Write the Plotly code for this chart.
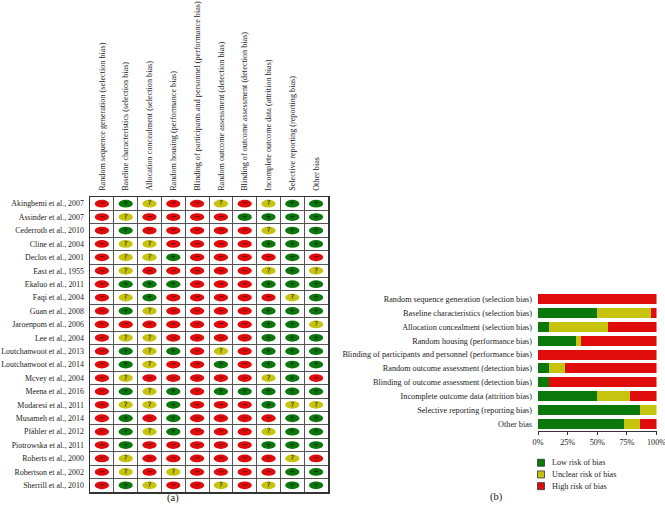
import plotly.graph_objects as go

domains = [
    "Random sequence generation (selection bias)",
    "Baseline characteristics (selection bias)",
    "Allocation concealment (selection bias)",
    "Random housing (performance bias)",
    "Blinding of participants and personnel (performance bias)",
    "Random outcome assessment (detection bias)",
    "Blinding of outcome assessment (detection bias)",
    "Incomplete outcome data (attrition bias)",
    "Selective reporting (reporting bias)",
    "Other bias",
]

studies = [
    "Akingbemi et al., 2007", "Assinder et al., 2007", "Cederroth et al., 2010",
    "Cline et al., 2004", "Declos et al., 2001", "East et al., 1955",
    "Ekaluo et al., 2011", "Faqi et al., 2004", "Guan et al., 2008",
    "Jaroenpom et al., 2006", "Lee et al., 2004", "Loutchanwoot et al., 2013",
    "Loutchanwoot et al., 2014", "Mcvey et al., 2004", "Meena et al., 2016",
    "Modaresi et al., 2011", "Musameh et al., 2014", "Pf\u00e4hler et al., 2012",
    "Piotrowska et al., 2011", "Roberts et al., 2000", "Robertson et al., 2002",
    "Sherrill et al., 2010",
]

# L = low, U = unclear, H = high risk of bias (one string per study, one letter per domain)
judgements = [
    "HLUHHUHULL", "HUHHHHLLLL", "HLHHHHHULL", "HUUHHHHLLL", "HUULHHHHLH",
    "HUHHHHHULU", "HLLLHHHLLL", "HULHHHHHUL", "HLUHHHHLLL", "HHHHHHHLLU",
    "HUUHHHHLLL", "HLULHUHLLL", "HLUHHLHLLL", "HUHHHHHULH", "HLULHLLLLL",
    "HUULHHHLUU", "HLHLHHHHLL", "HLULHHHULL", "HLHHHHHLLL", "HUHHHHHHUH",
    "HUHUHHHHLL", "HLUHHUHULL",
]

legend_codes = ["L", "U", "H"]
legend_names = ["Low risk of bias", "Unclear risk of bias", "High risk of bias"]

GREEN, YELLOW, RED = "#0b780b", "#c6c40e", "#e00b0b"
colors = {"L": GREEN, "U": YELLOW, "H": RED}
signs = {"L": "+", "U": "?", "H": "\u2212"}

FONT = "Liberation Serif"
TXT = "#222222"
FS = 8.2
FS_ROW = 7.9

fig = go.Figure()

# ---- panel (a): traffic-light grid ----
shapes = []
sx, sy, st = [], [], []
for i, row in enumerate(judgements):
    for j, c in enumerate(row):
        x, y = j + 1, i + 1
        shapes.append(dict(type="circle", xref="x", yref="y",
                           x0=x - 0.3, x1=x + 0.3, y0=y - 0.29, y1=y + 0.29,
                           fillcolor=colors[c], line=dict(width=0), layer="below"))
        sx.append(x); sy.append(y); st.append(signs[c])

fig.add_trace(go.Scatter(x=sx, y=sy, text=st, mode="text", xaxis="x", yaxis="y",
                         textfont=dict(size=7, color="#111111", family="DejaVu Sans"),
                         showlegend=False, hoverinfo="skip"))

# ---- panel (b): stacked percentage bars ----
n = len(judgements)
for code, name in zip(legend_codes, legend_names):
    pct = [100.0 * sum(1 for r in judgements if r[j] == code) / n for j in range(len(domains))]
    fig.add_trace(go.Bar(y=domains, x=pct, orientation="h", xaxis="x2", yaxis="y2",
                         marker=dict(color=colors[code], line=dict(width=0)),
                         width=0.72, showlegend=False, name=name))

# ---- legend for panel (b) ----
fig.add_trace(go.Scatter(x=[5] * 3, y=[0.5, 1.5, 2.5], mode="markers", xaxis="x3", yaxis="y3",
                         marker=dict(symbol="square", size=7,
                                     color=[colors[c] for c in legend_codes],
                                     line=dict(color="#333333", width=0.8)),
                         showlegend=False, hoverinfo="skip"))
legend_ann = [dict(text=name, xref="x3", yref="y3", x=14, y=k + 0.5, xanchor="left",
                   yanchor="middle", showarrow=False,
                   font=dict(family=FONT, size=FS, color=TXT))
              for k, name in enumerate(legend_names)]

fig.update_layout(
    width=665, height=512,
    margin=dict(l=0, r=0, t=0, b=0),
    paper_bgcolor="white", plot_bgcolor="white",
    font=dict(family=FONT, size=FS, color=TXT),
    barmode="stack",
    shapes=shapes,
    showlegend=False,
    xaxis=dict(domain=[90 / 665, 328 / 665], range=[0.5, 10.5], side="top", automargin=False,
               tickmode="array", tickvals=list(range(1, 11)), ticktext=domains,
               tickangle=-90, ticks="", ticklabelstandoff=3, showgrid=False, zeroline=False,
               minor=dict(tickmode="array", tickvals=[k + 0.5 for k in range(0, 11)],
                          showgrid=True, gridcolor="#555555", gridwidth=1, ticks=""),
               showline=True, mirror=True, linecolor="#333333", linewidth=1.5,
               tickfont=dict(family=FONT, size=FS, color=TXT), fixedrange=True),
    yaxis=dict(domain=[1 - 492 / 512, 1 - 197 / 512], range=[22.5, 0.5], automargin=False,
               tickmode="array", tickvals=list(range(1, 23)), ticktext=studies,
               ticks="", ticklabelstandoff=3, showgrid=False, zeroline=False,
               minor=dict(tickmode="array", tickvals=[k + 0.5 for k in range(0, 23)],
                          showgrid=True, gridcolor="#555555", gridwidth=1, ticks=""),
               showline=True, mirror=True, linecolor="#333333", linewidth=1.5,
               tickfont=dict(family=FONT, size=FS_ROW, color=TXT), fixedrange=True),
    xaxis2=dict(domain=[538 / 665, 656.5 / 665], range=[0, 100], anchor="y2", automargin=False,
                tickmode="array", tickvals=[0, 25, 50, 75, 100],
                ticktext=["0%", "25%", "50%", "75%", "100%"], ticklabeloverflow="allow",
                ticks="outside", ticklen=3, tickcolor="#333333", showgrid=False, zeroline=False,
                showline=True, linecolor="#333333", linewidth=1,
                tickfont=dict(family=FONT, size=FS, color=TXT), fixedrange=True),
    yaxis2=dict(domain=[1 - 431 / 512, 1 - 292 / 512], anchor="x2", autorange="reversed",
                automargin=False, type="category", ticks="", ticklabelstandoff=5,
                showgrid=False, zeroline=False, showline=False,
                tickfont=dict(family=FONT, size=FS, color=TXT), fixedrange=True),
    xaxis3=dict(domain=[536 / 665, 1.0], range=[0, 129], anchor="y3", visible=False,
                fixedrange=True),
    yaxis3=dict(domain=[1 - 492 / 512, 1 - 456.9 / 512], range=[3, 0], anchor="x3",
                visible=False, fixedrange=True),
    annotations=legend_ann + [
        dict(text="(a)", xref="paper", yref="paper", x=165 / 665, y=1 - 506 / 512,
             showarrow=False, font=dict(family=FONT, size=10.5, color=TXT)),
        dict(text="(b)", xref="paper", yref="paper", x=505 / 665, y=1 - 505 / 512,
             showarrow=False, font=dict(family=FONT, size=10.5, color=TXT)),
    ],
)

fig.write_html("out.html", config={"displayModeBar": False, "staticPlot": True},
               post_script="document.body.style.margin='0';document.body.style.overflow='hidden';")
